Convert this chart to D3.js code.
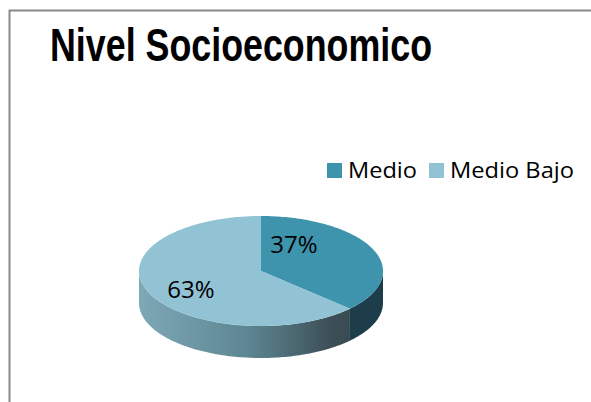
<!DOCTYPE html>
<html>
<head>
<meta charset="utf-8">
<script src="https://cdn.jsdelivr.net/npm/d3@7"></script>
<style>
  html, body { margin: 0; padding: 0; background: #fff; }
  svg { display: block; }
</style>
</head>
<body>
<svg id="chart" width="591" height="402"></svg>
<script>
// Socioeconomic level shares
const categories = ["Medio", "Medio Bajo"];
const values = [37, 63];
const labels = ["37%", "63%"];
const topColors = ["#3f94ad", "#92c3d5"];
const title = "Nivel Socioeconomico";

const svg = d3.select("#chart");

// Chart frame (extends past the right and bottom edges)
svg.append("rect")
  .attr("x", 9.5).attr("y", 10.5)
  .attr("width", 640).attr("height", 460)
  .attr("fill", "#fff")
  .attr("stroke", "#8a8a8a").attr("stroke-width", 2);

// Title, condensed to a narrow width
svg.append("text")
  .attr("x", 50).attr("y", 61)
  .attr("font-family", "'Liberation Sans', Arial, sans-serif")
  .attr("font-weight", "bold")
  .attr("font-size", 47)
  .attr("textLength", 382)
  .attr("lengthAdjust", "spacingAndGlyphs")
  .attr("fill", "#000")
  .text(title);

// Legend
const color = d3.scaleOrdinal().domain(categories).range(topColors);
const legendItems = [
  { x: 327, textX: 348, w: 69 },
  { x: 429, textX: 450, w: 124 }
];
categories.forEach((c, i) => {
  svg.append("rect")
    .attr("x", legendItems[i].x).attr("y", 163)
    .attr("width", 15).attr("height", 15)
    .attr("fill", color(c));
  svg.append("text")
    .attr("x", legendItems[i].textX).attr("y", 177.5)
    .attr("font-family", "'Open Sans', sans-serif")
    .attr("font-size", 21.5)
    .attr("textLength", legendItems[i].w)
    .attr("lengthAdjust", "spacingAndGlyphs")
    .attr("fill", "#000")
    .text(c);
});

// 3D pie geometry
const cx = 261, cy = 271, rx = 122, ry = 55, depth = 32;
const pie = d3.pie().sort(null).value(d => d)(values);

function pt(a, dy = 0) {
  return [cx + rx * Math.sin(a), cy - ry * Math.cos(a) + dy];
}
function arcPoints(a0, a1, dy = 0) {
  const n = Math.max(2, Math.ceil(Math.abs(a1 - a0) / 0.02));
  return d3.range(n + 1).map(i => pt(a0 + (a1 - a0) * i / n, dy));
}

const defs = svg.append("defs");
const sideGrad = defs.append("linearGradient")
  .attr("id", "sideLight")
  .attr("gradientUnits", "userSpaceOnUse")
  .attr("x1", cx - rx).attr("x2", cx + rx)
  .attr("y1", 0).attr("y2", 0);
sideGrad.append("stop").attr("offset", "0%").attr("stop-color", "#7ea8b6");
sideGrad.append("stop").attr("offset", "45%").attr("stop-color", "#5d8692");
sideGrad.append("stop").attr("offset", "80%").attr("stop-color", "#3b4d55");
sideGrad.append("stop").attr("offset", "100%").attr("stop-color", "#33454d");

const sideFills = ["#1d3d4a", "url(#sideLight)"];
const line = d3.line();

// Side walls: only the front half (angles between PI/2 and 3PI/2) is visible
pie.forEach((d, i) => {
  const a0 = Math.max(d.startAngle, Math.PI / 2);
  const a1 = Math.min(d.endAngle, 3 * Math.PI / 2);
  if (a1 <= a0) return;
  const top = arcPoints(a0, a1, 0);
  const bottom = arcPoints(a1, a0, depth);
  svg.append("path")
    .attr("d", line(top.concat(bottom)) + "Z")
    .attr("fill", sideFills[i]);
});

// Top faces
pie.forEach((d, i) => {
  const pts = [[cx, cy]].concat(arcPoints(d.startAngle, d.endAngle, 0));
  svg.append("path")
    .attr("d", line(pts) + "Z")
    .attr("fill", color(categories[i]));
});

// Percentage labels
const labelPos = [[294, 253], [191, 298]];
pie.forEach((d, i) => {
  svg.append("text")
    .attr("x", labelPos[i][0]).attr("y", labelPos[i][1])
    .attr("text-anchor", "middle")
    .attr("font-family", "'Open Sans', sans-serif")
    .attr("font-size", 24)
    .attr("fill", "#000")
    .text(labels[i]);
});
</script>
</body>
</html>
